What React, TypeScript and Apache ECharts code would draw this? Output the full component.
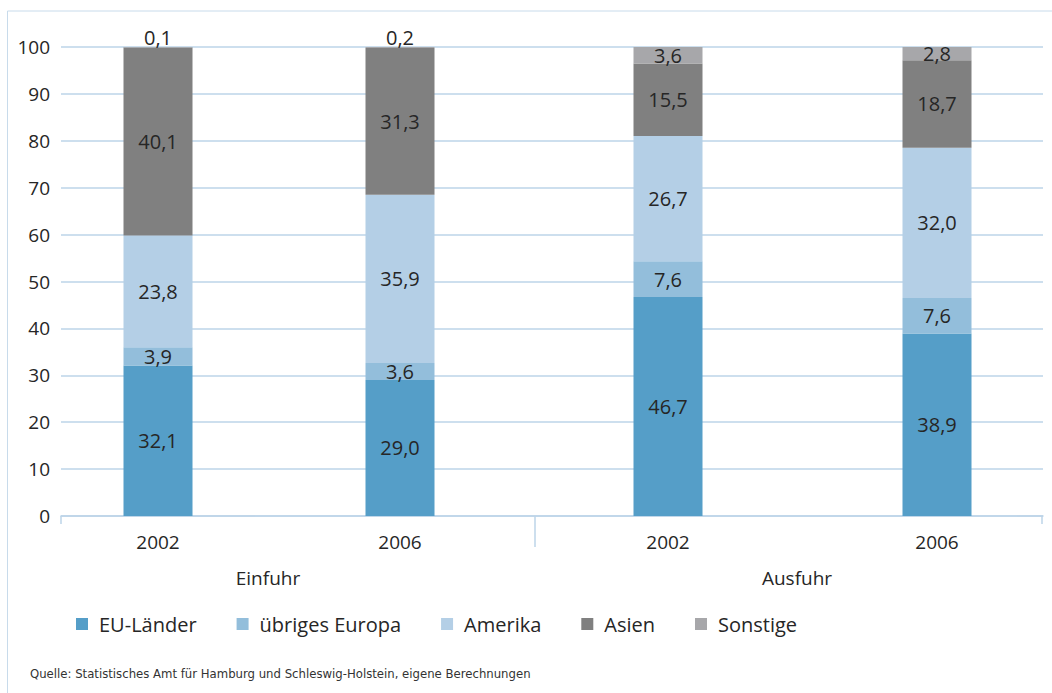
import React, { useEffect, useRef } from "react";
import * as echarts from "echarts";

// Anteile in Prozent: Einfuhr 2002, Einfuhr 2006, Ausfuhr 2002, Ausfuhr 2006
const years = ["2002", "2006"];
const groups = ["Einfuhr", "Ausfuhr"];
const regions = ["EU-Länder", "übriges Europa", "Amerika", "Asien", "Sonstige"];
const euLaender = [32.1, 29.0, 46.7, 38.9];
const uebrigesEuropa = [3.9, 3.6, 7.6, 7.6];
const amerika = [23.8, 35.9, 26.7, 32.0];
const asien = [40.1, 31.3, 15.5, 18.7];
const sonstige = [0.1, 0.2, 3.6, 2.8];
const yTicks = { min: 0, max: 100, interval: 10 };
const source =
  "Quelle: Statistisches Amt für Hamburg und Schleswig-Holstein, eigene Berechnungen";

const colors = ["#559ec8", "#93bedb", "#b4cfe6", "#808080", "#a7a7aa"];
const seriesValues = [euLaender, uebrigesEuropa, amerika, asien, sonstige];

const FONT = "'Open Sans', 'Noto Sans', sans-serif";
const NARROW = "'Liberation Sans Narrow', 'DejaVu Sans Condensed', 'Open Sans', sans-serif";
const TEXT = "#262626";
const LINE = "#bcd4e8";

const fmt = (p: any) => Number(p.value).toFixed(1).replace(".", ",");

// Lage der beiden Säulen je Gruppe (Mitte der ersten Säule, Abstand zur zweiten)
const groupBoxes = [
  { left: 158, width: 242 },
  { left: 668, width: 269 },
];

export default function App() {
  const ref = useRef<HTMLDivElement>(null);

  useEffect(() => {
    if (!ref.current) return;
    const chart = echarts.init(ref.current, null, { renderer: "svg" });

    const plotTop = 47;
    const plotHeight = 469;

    const barSeries: any[] = [];
    groups.forEach((g, gi) => {
      regions.forEach((name, si) => {
        const vals = seriesValues[si].slice(gi * 2, gi * 2 + 2);
        barSeries.push({
          type: "bar",
          name,
          stack: g,
          xAxisIndex: gi + 1,
          yAxisIndex: gi + 1,
          barWidth: 69,
          itemStyle: { color: colors[si] },
          data: vals.map((v) => ({
            value: v,
            label:
              v < 1
                ? { position: "top", distance: 0 }
                : { position: "inside" },
          })),
          label: {
            show: true,
            formatter: fmt,
            color: TEXT,
            fontSize: 20,
            fontFamily: FONT,
          },
        });
      });
    });

    chart.setOption({
      animation: false,
      backgroundColor: "#ffffff",
      grid: [
        { left: 61, width: 982, top: plotTop, height: plotHeight },
        ...groupBoxes.map((b) => ({
          left: b.left,
          width: b.width,
          top: plotTop,
          height: plotHeight,
        })),
      ],
      xAxis: [
        {
          gridIndex: 0,
          type: "value",
          min: 0,
          max: 1,
          axisLine: { show: true, lineStyle: { color: LINE, width: 1.5 } },
          axisTick: { show: false },
          axisLabel: { show: false },
          splitLine: { show: false },
        },
        ...groups.map((_, gi) => ({
          gridIndex: gi + 1,
          type: "category",
          data: years,
          boundaryGap: false,
          axisLine: { show: false },
          axisTick: { show: false },
          axisLabel: {
            color: TEXT,
            fontSize: 19,
            fontFamily: FONT,
            margin: 16,
          },
        })),
      ],
      yAxis: [
        {
          gridIndex: 0,
          type: "value",
          ...yTicks,
          axisLine: { show: false },
          axisTick: { show: false },
          axisLabel: {
            color: TEXT,
            fontSize: 19,
            fontFamily: FONT,
            margin: 11,
            padding: [0, 0, 12, 0],
          },
          splitLine: { lineStyle: { color: LINE, width: 1.5 } },
        },
        ...groups.map((_, gi) => ({
          gridIndex: gi + 1,
          type: "value",
          ...yTicks,
          show: false,
          splitLine: { show: false },
        })),
      ],
      legend: {
        data: regions,
        left: 71,
        top: 609,
        icon: "rect",
        itemWidth: 12,
        itemHeight: 12,
        itemGap: 40,
        textStyle: {
          color: TEXT,
          fontSize: 20,
          fontFamily: FONT,
          padding: [0, 0, 0, 6],
        },
      },
      graphic: [
        {
          type: "polyline",
          shape: { points: [[1052, 11], [7.5, 11], [7.5, 693]] },
          style: { stroke: "#c8dbeb", lineWidth: 1, fill: "none" },
          silent: true,
        },
        // Teilstriche an der Rubrikenachse
        {
          type: "line",
          shape: { x1: 61, y1: 516, x2: 61, y2: 524 },
          style: { stroke: LINE, lineWidth: 1.5 },
        },
        {
          type: "line",
          shape: { x1: 535, y1: 516, x2: 535, y2: 547 },
          style: { stroke: LINE, lineWidth: 1.5 },
        },
        {
          type: "line",
          shape: { x1: 1042, y1: 516, x2: 1042, y2: 524 },
          style: { stroke: LINE, lineWidth: 1.5 },
        },
        {
          type: "text",
          x: 268,
          y: 578,
          style: {
            text: groups[0],
            fill: TEXT,
            fontSize: 19,
            fontFamily: FONT,
            textAlign: "center",
            textVerticalAlign: "middle",
          },
        },
        {
          type: "text",
          x: 797,
          y: 578,
          style: {
            text: groups[1],
            fill: TEXT,
            fontSize: 19,
            fontFamily: FONT,
            textAlign: "center",
            textVerticalAlign: "middle",
          },
        },
        {
          type: "text",
          x: 30,
          y: 673,
          style: {
            text: source,
            fill: "#333333",
            fontSize: 13,
            fontFamily: NARROW,
            textAlign: "left",
            textVerticalAlign: "middle",
          },
        },
      ],
      series: barSeries,
    });

    return () => chart.dispose();
  }, []);

  return (
    <div
      ref={ref}
      style={{ position: "absolute", left: 0, top: 0, width: 1052, height: 693 }}
    />
  );
}
